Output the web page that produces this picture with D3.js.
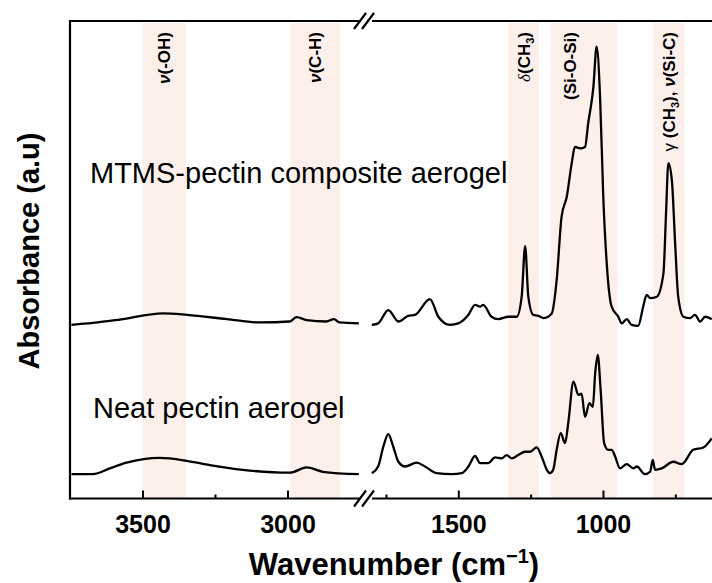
<!DOCTYPE html>
<html><head><meta charset="utf-8">
<script src="https://cdn.jsdelivr.net/npm/d3@7"></script>
<style>
html,body{margin:0;padding:0;background:#fff;}
svg{display:block;}
text{font-family:"Liberation Sans", Arial, sans-serif;}
</style></head>
<body>
<svg id="chart" width="712" height="583"></svg>
<script>
// ---------- data ----------
const leftWavenumbers = [3745, 3671, 3578, 3430, 3347, 3209, 3096, 2992, 2969, 2934, 2866, 2840, 2820, 2754];
const mtmsLeft = [36.3, 36.7, 37.4, 38.7, 38.4, 37.5, 36.8, 37.0, 37.9, 37.3, 37.0, 37.5, 36.8, 36.6];

const neatLeftWavenumbers = [3745, 3671, 3613, 3555, 3440, 3348, 3268, 3154, 2992, 2934, 2878, 2754];
const neatLeft = [5.0, 5.0, 6.2, 7.4, 8.4, 7.8, 6.9, 5.9, 5.3, 6.4, 5.5, 5.0];

const mtmsRightWavenumbers = [1799, 1777, 1742, 1707, 1673, 1650, 1598, 1569, 1529, 1500, 1465, 1442, 1425, 1414, 1385, 1362, 1327, 1298, 1281, 1269, 1258, 1241, 1223, 1206, 1177, 1160, 1143, 1125, 1108, 1097, 1079, 1062, 1051, 1033, 1022, 1010, 999, 987, 970, 947, 935, 918, 901, 878, 861, 849, 837, 814, 791, 782, 774, 762, 750, 740, 722, 699, 682, 664, 647, 624];
const mtmsRight = [36.3, 36.6, 39.4, 37.0, 38.2, 38.4, 41.7, 38.0, 36.3, 36.6, 38.4, 40.5, 40.1, 40.5, 38.0, 37.5, 38.0, 38.0, 42.2, 52.8, 42.2, 38.4, 38.2, 37.7, 38.7, 45.7, 59.0, 63.2, 70.2, 73.6, 73.3, 73.6, 78.6, 86.2, 94.6, 84.1, 63.2, 49.2, 40.1, 38.0, 36.6, 37.5, 36.3, 36.1, 40.1, 42.6, 41.9, 42.2, 47.1, 59.7, 70.2, 66.7, 52.7, 42.2, 38.0, 37.7, 38.4, 37.0, 38.0, 37.5];

const neatRightWavenumbers = [1799, 1777, 1759, 1742, 1725, 1707, 1684, 1644, 1615, 1575, 1523, 1488, 1465, 1442, 1425, 1396, 1373, 1350, 1333, 1315, 1293, 1269, 1252, 1229, 1212, 1194, 1183, 1172, 1160, 1146, 1131, 1120, 1102, 1085, 1074, 1062, 1047, 1035, 1027, 1018, 1008, 996, 982, 970, 958, 941, 918, 895, 883, 855, 837, 828, 820, 797, 757, 728, 688, 653, 624];
const neatRight = [5.2, 6.6, 10.8, 13.4, 10.8, 7.6, 6.6, 7.4, 6.6, 5.2, 5.0, 5.2, 6.6, 8.8, 7.3, 7.3, 8.5, 8.3, 9.0, 8.3, 9.0, 9.7, 9.7, 10.6, 8.7, 5.9, 5.2, 5.9, 10.1, 13.6, 11.5, 15.7, 24.4, 21.6, 21.9, 17.0, 19.9, 19.1, 26.1, 30.0, 22.6, 11.5, 10.1, 10.1, 8.7, 6.2, 7.1, 6.2, 6.6, 5.0, 5.5, 8.0, 5.9, 6.2, 7.6, 7.1, 10.1, 10.6, 12.5];

const majorTicksLeft = [3500, 3000];
const minorTicksLeft = [3250];
const majorTicksRight = [1500, 1000];
const minorTicksRight = [1750, 1250, 750];

const bandRangesLeft = [[3500, 3350], [2990, 2820]];
const bandRangesRight = [[1327, 1221], [1180, 950], [826, 718]];

const seriesLabels = ["MTMS-pectin composite aerogel", "Neat pectin aerogel"];
const xTitle = "Wavenumber (cm";
const yTitle = "Absorbance (a.u)";

// ---------- layout ----------
const svg = d3.select("#chart");
const yBottom = 498.5, yTop = 21;
const xL = d3.scaleLinear().domain([3750, 2750]).range([70, 360]);
const xR = d3.scaleLinear().domain([1800, 600]).range([371.5, 718.7]);
const y = d3.scaleLinear().domain([0, 100]).range([498, 21]);

const bandColor = "#fdf0eb";
const gB = svg.append("g");
bandRangesLeft.forEach(([a, b]) => {
  gB.append("rect").attr("x", xL(a)).attr("width", xL(b) - xL(a))
    .attr("y", yTop + 2).attr("height", yBottom - yTop - 2).attr("fill", bandColor);
});
bandRangesRight.forEach(([a, b]) => {
  gB.append("rect").attr("x", xR(a)).attr("width", xR(b) - xR(a))
    .attr("y", yTop + 2).attr("height", yBottom - yTop - 2).attr("fill", bandColor);
});

// curves
const lineL = d3.line().x(d => xL(d[0])).y(d => y(d[1])).curve(d3.curveMonotoneX);
const lineR = d3.line().x(d => xR(d[0])).y(d => y(d[1])).curve(d3.curveMonotoneX);
const curves = svg.append("g").attr("fill", "none").attr("stroke", "#000")
  .attr("stroke-width", 2.3).attr("stroke-linejoin", "round");
curves.append("path").attr("d", lineL(d3.zip(leftWavenumbers, mtmsLeft)));
curves.append("path").attr("d", lineL(d3.zip(neatLeftWavenumbers, neatLeft)));
curves.append("path").attr("d", lineR(d3.zip(mtmsRightWavenumbers, mtmsRight)));
curves.append("path").attr("d", lineR(d3.zip(neatRightWavenumbers, neatRight)));

// axes
function drawAxis(scale, major, minor) {
  const gM = svg.append("g").attr("transform", `translate(0,${yBottom})`)
    .call(d3.axisBottom(scale).tickValues(major).tickSize(-8).tickPadding(17).tickFormat(d3.format("d")));
  gM.select(".domain").remove();
  gM.selectAll(".tick line").attr("stroke", "#000").attr("stroke-width", 2);
  gM.selectAll(".tick text").attr("fill", "#000")
    .style("font-family", "'Liberation Sans Narrow', 'Liberation Sans', Arial, sans-serif")
    .style("font-stretch", "condensed").style("font-weight", "bold").style("font-size", "25px");
  const gm = svg.append("g").attr("transform", `translate(0,${yBottom})`)
    .call(d3.axisBottom(scale).tickValues(minor).tickSize(-4).tickFormat(""));
  gm.select(".domain").remove();
  gm.selectAll(".tick line").attr("stroke", "#000").attr("stroke-width", 2);
}
drawAxis(xL, majorTicksLeft, minorTicksLeft);
drawAxis(xR, majorTicksRight, minorTicksRight);

// frame with breaks
const frame = svg.append("g").attr("stroke", "#000").attr("stroke-width", 2.2).attr("fill", "none");
frame.append("line").attr("x1", 70).attr("x2", 70).attr("y1", yTop - 1).attr("y2", yBottom + 1);
[yTop, yBottom].forEach(yy => {
  frame.append("line").attr("x1", 69).attr("x2", 359).attr("y1", yy).attr("y2", yy);
  frame.append("line").attr("x1", 372).attr("x2", 712).attr("y1", yy).attr("y2", yy);
  [360, 368].forEach(cx => {
    frame.append("line").attr("x1", cx - 6).attr("y1", yy + 8).attr("x2", cx + 6).attr("y2", yy - 8);
  });
});

// series labels
svg.append("text").attr("x", 90).attr("y", 183).style("font-size", "29px").text(seriesLabels[0]);
svg.append("text").attr("x", 93).attr("y", 418).style("font-size", "29px").text(seriesLabels[1]);

// axis titles
const xt = svg.append("text").attr("x", 394).attr("y", 575).attr("text-anchor", "middle")
  .style("font-size", "31px").style("font-weight", "bold");
xt.append("tspan").text(xTitle);
xt.append("tspan").attr("dy", -12).style("font-size", "20px").text("\u22121");
xt.append("tspan").attr("dy", 12).text(")");
svg.append("text").attr("transform", "translate(39,251) rotate(-90)").attr("text-anchor", "middle")
  .style("font-size", "29px").style("font-weight", "bold").text(yTitle);

// band labels
const bandLabelTop = 32;
function bandLabel(cx, parts) {
  const t = svg.append("text").attr("transform", `translate(${cx + 6},${bandLabelTop}) rotate(-90)`)
    .attr("text-anchor", "end").style("font-size", "17px").style("font-weight", "bold");
  parts.forEach(p => {
    const s = t.append("tspan").text(p.t);
    if (p.italic) s.style("font-style", "italic");
    if (p.normal) s.style("font-weight", "normal");
    if (p.serif) s.style("font-family", "'Liberation Serif', serif");
    if (p.sub) s.attr("dy", 4).style("font-size", "11px");
    if (p.after) s.attr("dy", -4);
  });
}
bandLabel(xL(3425), [{t: "\u03bd", italic: true}, {t: "(-OH)"}]);
bandLabel(xL(2905), [{t: "\u03bd", italic: true}, {t: "(C-H)"}]);
bandLabel(xR(1274), [{t: "\u03b4", italic: true, normal: true, serif: true}, {t: "(CH"}, {t: "3", sub: true}, {t: ")", after: true}]);
bandLabel(xR(1115), [{t: "(Si-O-Si)"}]);
bandLabel(xR(772), [{t: "\u03b3 ", normal: true}, {t: "(CH"}, {t: "3", sub: true}, {t: "), ", after: true}, {t: "\u03bd", italic: true}, {t: "(Si-C)"}]);
</script>
</body></html>
